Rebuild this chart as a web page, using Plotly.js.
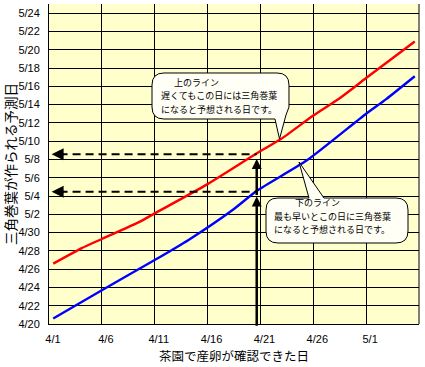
<!DOCTYPE html>
<html><head><meta charset="utf-8">
<script src="https://cdn.plot.ly/plotly-3.0.1.min.js"></script>
<style>html,body{margin:0;padding:0;background:#fff}#chart{width:425px;height:367px}</style>
</head><body><div id="chart"></div>
<script>
// x: days after 4/1 (egg laying confirmed in tea field); y: days after 4/20 (predicted date)
const xTickVals = [0, 5, 10, 15, 20, 25, 30];
const xTickLabels = ['4/1', '4/6', '4/11', '4/16', '4/21', '4/26', '5/1'];
const yTickVals = [0, 2, 4, 6, 8, 10, 12, 14, 16, 18, 20, 22, 24, 26, 28, 30, 32, 34];
const yTickLabels = ['4/20', '4/22', '4/24', '4/26', '4/28', '4/30', '5/2', '5/4', '5/6',
  '5/8', '5/10', '5/12', '5/14', '5/16', '5/18', '5/20', '5/22', '5/24'];

const upperX = [0.4, 3.1, 5, 8.6, 10, 15, 19.7, 21.9, 25, 27.5, 30, 34.6];
const upperY = [6.6, 8.3, 9.3, 11.2, 12.1, 15.3, 18.7, 20.2, 22.8, 24.7, 26.9, 30.9];
const lowerX = [0.4, 5, 10, 13.2, 17.4, 19.7, 24.4, 30, 31.9, 34.6];
const lowerY = [0.6, 3.7, 7.0, 9.2, 12.5, 14.6, 17.9, 23.0, 24.6, 27.1];

const confirmDay = 19.65;
const upperPred = 18.57;
const lowerPred = 14.47;

const upperText = ['上のライン', '遅くてもこの日には三角巻葉', 'になると予想される日です。'];
const lowerText = ['下のライン', '最も早いとこの日に三角巻葉', 'になると予想される日です。'];

// plot box in pixels (for callout drawing)
const BOX = {l: 49, t: 4, w: 370, h: 320};
const fx = x => ((x - BOX.l) / BOX.w).toFixed(4);
const fy = y => ((BOX.t + BOX.h - y) / BOX.h).toFixed(4);
const P = (x, y) => fx(x) + ',' + fy(y);

function upperBubble() {
  const L = 152, R = 289, T = 73, B = 119, r = 12;
  return 'M' + P(L + r, T) + ' L' + P(R - r, T) + ' Q' + P(R, T) + ' ' + P(R, T + r) +
    ' L' + P(R, B - r) + ' L' + P(R - 3, B - 4) + ' L' + P(279.5, 139) + ' L' + P(275, B) +
    ' L' + P(L + r, B) + ' Q' + P(L, B) + ' ' + P(L, B - r) + ' L' + P(L, T + r) +
    ' Q' + P(L, T) + ' ' + P(L + r, T) + ' Z';
}
function lowerBubble() {
  const L = 266, R = 408, T = 198, B = 243, r = 12;
  return 'M' + P(L + r, T) + ' L' + P(309, T) + ' L' + P(299, 162) + ' L' + P(324, T) +
    ' L' + P(R - r, T) + ' Q' + P(R, T) + ' ' + P(R, T + r) + ' L' + P(R, B - r) +
    ' Q' + P(R, B) + ' ' + P(R - r, B) + ' L' + P(L + r, B) + ' Q' + P(L, B) + ' ' + P(L, B - r) +
    ' L' + P(L, T + r) + ' Q' + P(L, T) + ' ' + P(L + r, T) + ' Z';
}

const jp = 'Noto Sans CJK JP, sans-serif';
const tickFont = {family: 'Liberation Sans, Arial, sans-serif', size: 11, color: '#000'};

const traces = [
  {x: upperX, y: upperY, type: 'scatter', mode: 'lines',
   line: {color: '#ff0000', width: 2.4, shape: 'spline', smoothing: 0.6}, hoverinfo: 'skip'},
  {x: lowerX, y: lowerY, type: 'scatter', mode: 'lines',
   line: {color: '#0000ff', width: 2.4, shape: 'spline', smoothing: 0.6}, hoverinfo: 'skip'},
  {x: [confirmDay], y: [-0.35], type: 'scatter', mode: 'markers', cliponaxis: false,
   marker: {color: '#000', size: 7, symbol: 'circle'}, hoverinfo: 'skip'}
];

function textLines(lines, xs, ys) {
  return lines.map((t, i) => ({
    xref: 'paper', yref: 'paper', x: +fx(xs[i]), y: +fy(ys[i]), xanchor: 'left', yanchor: 'middle',
    text: t, showarrow: false, font: {family: jp, size: 9, color: '#000'}, borderpad: 0
  }));
}

const annotations = [
  {x: 0.25, y: upperPred, xref: 'x', yref: 'y', ax: 14, ay: 0, text: '', showarrow: true,
   arrowhead: 2, arrowsize: 1.2, arrowwidth: 2, arrowcolor: '#000'},
  {x: 0.25, y: lowerPred, xref: 'x', yref: 'y', ax: 14, ay: 0, text: '', showarrow: true,
   arrowhead: 2, arrowsize: 1.2, arrowwidth: 2, arrowcolor: '#000'},
  {x: confirmDay, y: 13.95, ax: confirmDay, ay: -0.35, xref: 'x', yref: 'y', axref: 'x', ayref: 'y',
   text: '', showarrow: true, arrowhead: 2, arrowsize: 0.8, arrowwidth: 2.5, arrowcolor: '#000'},
  {x: confirmDay, y: 18.05, ax: confirmDay, ay: 13.95, xref: 'x', yref: 'y', axref: 'x', ayref: 'y',
   text: '', showarrow: true, arrowhead: 2, arrowsize: 0.8, arrowwidth: 2.5, arrowcolor: '#000'}
].concat(
  textLines(upperText, [173, 160, 160], [82.3, 95.7, 109.1]),
  textLines(lowerText, [294, 273, 273], [202.8, 216.2, 229.6])
);

const shapes = [
  {type: 'line', xref: 'paper', yref: 'paper', x0: 1, x1: 1, y0: 0, y1: 1, line: {color: '#000', width: 1}},
  {type: 'line', xref: 'x', yref: 'y', x0: 1.0, x1: confirmDay, y0: upperPred, y1: upperPred,
   line: {color: '#000', width: 2, dash: '8px,5px'}},
  {type: 'line', xref: 'x', yref: 'y', x0: 1.0, x1: confirmDay, y0: lowerPred, y1: lowerPred,
   line: {color: '#000', width: 2, dash: '8px,5px'}},
  {type: 'path', xref: 'paper', yref: 'paper', path: upperBubble(), fillcolor: '#fffff6',
   line: {color: '#000', width: 1}, layer: 'above'},
  {type: 'path', xref: 'paper', yref: 'paper', path: lowerBubble(), fillcolor: '#fffff6',
   line: {color: '#000', width: 1}, layer: 'above'}
];

const layout = {
  width: 425, height: 367,
  margin: {l: 49, r: 6, t: 4, b: 43},
  paper_bgcolor: '#ffffff', plot_bgcolor: '#ffffcc',
  showlegend: false,
  xaxis: {
    range: [0, 35], tickvals: xTickVals, ticktext: xTickLabels, tickfont: tickFont,
    showgrid: true, gridcolor: '#000', gridwidth: 1, zeroline: false,
    showline: true, linecolor: '#000', linewidth: 1, ticks: '', ticklabelshift: 4, ticklabelstandoff: 5,
    title: {text: '茶園で産卵が確認できた日', font: {family: jp, size: 12.5, color: '#000'}, standoff: 8},
    fixedrange: true
  },
  yaxis: {
    range: [0, 35], tickvals: yTickVals, ticktext: yTickLabels, tickfont: tickFont,
    showgrid: true, gridcolor: '#000', gridwidth: 1, zeroline: false,
    showline: true, linecolor: '#000', linewidth: 1, ticks: '', ticklabelstandoff: 6,
    title: {text: '三角巻葉が作られる予測日', font: {family: jp, size: 13.5, color: '#000'}, standoff: 2},
    fixedrange: true
  },
  shapes: shapes,
  annotations: annotations
};

Plotly.newPlot('chart', traces, layout, {displayModeBar: false, staticPlot: true});
</script>
</body></html>
